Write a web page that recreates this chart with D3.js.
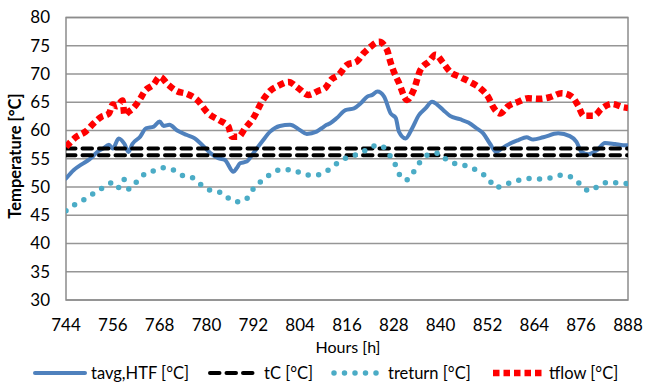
<!DOCTYPE html>
<html>
<head>
<meta charset="utf-8">
<script src="https://cdn.jsdelivr.net/npm/d3@7"></script>
<style>
  html, body { margin: 0; padding: 0; background: #fff; }
  svg text { font-family: Lato, "Open Sans", sans-serif; fill: #000; }
</style>
</head>
<body>
<div id="chart"></div>
<script>
// values
const avgHours = [744, 746, 748, 750, 751, 752, 753.5, 755, 756, 757.5, 759, 760, 761, 763, 764.5, 766.5, 768, 769, 770.5, 772.5, 775, 777, 778.5, 781, 783, 784.7, 786.9, 787.7, 788.6, 790.3, 792, 794.2, 796.3, 798.8, 801.4, 803.9, 805.7, 808.2, 809.5, 810.8, 811.7, 813.4, 815.6, 817.8, 819.5, 821.2, 822.5, 823.8, 825.5, 827.2, 828.5, 829.3, 831, 832.7, 834.4, 836.1, 837.8, 839.1, 840.7, 842.4, 844.9, 847.1, 849.2, 850.9, 852.6, 854.3, 855.6, 857.8, 859.9, 862, 863.7, 866.3, 870.1, 873.1, 874.8, 876.1, 877.8, 880, 882.1, 884.7, 886.8, 888];
const avgValues = [51.5, 53.0, 54.0, 54.9, 55.5, 56.2, 56.8, 57.5, 56.8, 58.6, 57.6, 56.2, 57.6, 58.9, 60.4, 60.7, 61.6, 60.8, 61.0, 60.0, 59.2, 58.6, 57.7, 56.0, 55.1, 54.8, 52.7, 53.3, 54.2, 54.5, 56.0, 58.0, 59.8, 60.8, 61.0, 60.1, 59.4, 59.8, 60.4, 61.0, 61.3, 62.2, 63.6, 63.9, 64.8, 66.0, 66.3, 66.9, 66.0, 63.0, 62.2, 59.8, 58.6, 60.4, 62.7, 63.9, 65.1, 64.6, 63.6, 62.6, 62.0, 61.4, 60.4, 59.5, 57.7, 56.2, 56.8, 57.7, 58.3, 58.8, 58.4, 58.8, 59.5, 59.0, 58.0, 56.2, 55.8, 56.5, 57.8, 57.6, 57.4, 57.4];

const tcValues = [56.8, 55.6];

const returnHours = [744, 746.5, 749, 751.4, 754, 756.1, 757.4, 758.7, 760.2, 762.1, 764.2, 766.6, 768.9, 771.6, 774, 776.9, 778.9, 781.5, 784.3, 786.4, 788.3, 790.7, 792.2, 794.4, 796.7, 799.4, 802.2, 805, 807.8, 810.1, 812.5, 814.8, 817.3, 819.9, 822, 824.6, 826.5, 828.1, 829.2, 831.1, 833, 834.7, 836.8, 839.4, 841.7, 844.5, 847.3, 849.8, 852.2, 854.1, 856.8, 859.5, 862.3, 865, 868, 870.8, 873.7, 875.9, 878.1, 880.7, 883.4, 886.2, 888];
const returnValues = [45.8, 47.0, 47.9, 49.0, 50.1, 50.8, 49.9, 51.4, 49.6, 50.9, 52.3, 52.9, 53.4, 53.0, 52.0, 51.5, 50.2, 49.3, 48.9, 47.6, 47.4, 48.2, 49.9, 51.2, 52.4, 53.1, 53.0, 52.2, 52.1, 52.5, 53.7, 54.8, 55.5, 56.1, 57.1, 57.4, 56.0, 54.4, 52.5, 51.2, 52.6, 54.4, 55.7, 56.0, 54.7, 54.0, 53.6, 52.7, 51.5, 49.9, 50.5, 51.1, 51.5, 51.4, 51.6, 52.1, 51.7, 50.4, 49.3, 50.3, 50.9, 50.6, 50.6];

const flowHours = [744, 746.7, 749, 751, 753, 755, 756, 757, 758.5, 759, 760, 761, 763, 764.2, 766.4, 768, 770.2, 772.3, 774.9, 777.5, 780.5, 783, 785.6, 786.5, 788.2, 789.9, 792, 794.2, 796.3, 798.4, 801, 803.5, 806.1, 808.6, 810.4, 812.1, 813.8, 816, 818.5, 820.3, 822, 824.2, 826.3, 827.1, 828, 829.2, 831.4, 833.1, 834.8, 837, 838.7, 840.7, 842.4, 844.9, 847.5, 850.1, 852.2, 853.5, 855.2, 857.3, 859.9, 862.4, 865.4, 868, 871, 873.6, 875.3, 876.6, 879.2, 881.3, 883.9, 886.9, 888];
const flowValues = [57.1, 58.9, 59.8, 61.2, 62.4, 63.0, 64.6, 64.3, 65.3, 62.7, 63.3, 63.8, 65.6, 67.0, 68.1, 69.5, 68.1, 67.0, 66.5, 65.5, 63.0, 61.9, 60.7, 58.9, 58.9, 60.4, 62.2, 65.1, 67.0, 67.9, 68.6, 67.5, 66.3, 67.0, 67.5, 69.1, 69.8, 71.6, 72.2, 73.7, 74.8, 75.7, 74.2, 72.2, 70.4, 68.6, 65.4, 67.2, 70.7, 72.2, 73.4, 71.9, 70.4, 69.5, 68.6, 67.5, 65.9, 64.1, 63.0, 64.3, 65.1, 65.7, 65.6, 65.9, 66.6, 66.0, 64.3, 62.6, 62.6, 63.9, 64.7, 64.1, 64.0];

const xTicks = [744, 756, 768, 780, 792, 804, 816, 828, 840, 852, 864, 876, 888];
const yTicks = [30, 35, 40, 45, 50, 55, 60, 65, 70, 75, 80];
const legendLabels = ['tavg,HTF [°C]', 'tC [°C]', 'treturn [°C]', 'tflow [°C]'];

const width = 657, height = 385;
const plot = { left: 66, right: 628, top: 17.5, bottom: 300 };

const x = d3.scaleLinear().domain([744, 888]).range([plot.left, plot.right]);
const y = d3.scaleLinear().domain([30, 80]).range([plot.bottom, plot.top]);

const svg = d3.select('#chart').append('svg')
  .attr('width', width).attr('height', height);

// gridlines
svg.append('g')
  .selectAll('line')
  .data(yTicks)
  .join('line')
  .attr('x1', plot.left).attr('x2', plot.right)
  .attr('y1', (d) => y(d)).attr('y2', (d) => y(d))
  .attr('stroke', '#969696').attr('stroke-width', 1.5);

// plot border
svg.append('rect')
  .attr('x', plot.left).attr('y', plot.top)
  .attr('width', plot.right - plot.left).attr('height', plot.bottom - plot.top)
  .attr('fill', 'none').attr('stroke', '#8c8c8c').attr('stroke-width', 1.5);

svg.append('clipPath').attr('id', 'clip')
  .append('rect')
  .attr('x', plot.left).attr('y', plot.top - 5)
  .attr('width', plot.right - plot.left).attr('height', plot.bottom - plot.top + 5);

const line = d3.line()
  .x((d) => x(d[0]))
  .y((d) => y(d[1]))
  .curve(d3.curveMonotoneX);

const series = svg.append('g').attr('clip-path', 'url(#clip)');

const styles = [
  { stroke: '#4F81BD', width: 4, dash: null, cap: 'round' },
  { stroke: '#000000', width: 4, dash: '9.5,7', cap: 'round' },
  { stroke: '#4BACC6', width: 5.5, dash: '0,10.5', cap: 'round' },
  { stroke: '#FF0000', width: 6.5, dash: '6.5,4', cap: 'butt' },
];

function drawSeries(points, st) {
  series.append('path')
    .datum(points)
    .attr('d', line)
    .attr('fill', 'none')
    .attr('stroke', st.stroke)
    .attr('stroke-width', st.width)
    .attr('stroke-dasharray', st.dash)
    .attr('stroke-linecap', st.cap)
    .attr('stroke-linejoin', 'round');
}

drawSeries(avgHours.map((h, i) => [h, avgValues[i]]), styles[0]);
tcValues.forEach((v) => drawSeries([[744, v], [888, v]], styles[1]));
drawSeries(returnHours.map((h, i) => [h, returnValues[i]]), styles[2]);
drawSeries(flowHours.map((h, i) => [h, flowValues[i]]), styles[3]);

// axis labels
svg.append('g')
  .selectAll('text')
  .data(yTicks)
  .join('text')
  .attr('x', 50)
  .attr('y', (d) => y(d))
  .attr('dy', '0.35em')
  .attr('text-anchor', 'end')
  .attr('font-size', 17)
  .text((d) => d);

svg.append('g')
  .selectAll('text')
  .data(xTicks)
  .join('text')
  .attr('x', (d) => x(d))
  .attr('y', 331)
  .attr('text-anchor', 'middle')
  .attr('font-size', 17)
  .text((d) => d);

svg.append('text')
  .attr('x', (plot.left + plot.right) / 2 + 1)
  .attr('y', 353)
  .attr('text-anchor', 'middle')
  .attr('font-size', 16)
  .text('Hours [h]');

svg.append('text')
  .attr('transform', `translate(21,156) rotate(-90)`)
  .attr('text-anchor', 'middle')
  .attr('font-size', 16.5)
  .attr('font-weight', 'bold')
  .text('Temperature [°C]');

// legend
const legendX = [35, 208, 332, 493];
const legend = svg.append('g');
legendLabels.forEach((label, i) => {
  const st = styles[i];
  const lx = legendX[i];
  legend.append('line')
    .attr('x1', lx + (st.cap === 'round' && st.dash ? 2 : 0))
    .attr('x2', lx + 50)
    .attr('y1', 373).attr('y2', 373)
    .attr('stroke', st.stroke)
    .attr('stroke-width', st.width)
    .attr('stroke-dasharray', st.dash)
    .attr('stroke-linecap', st.cap);
  legend.append('text')
    .attr('x', lx + 56)
    .attr('y', 379)
    .attr('font-size', 16.5)
    .text(label);
});
</script>
</body>
</html>
